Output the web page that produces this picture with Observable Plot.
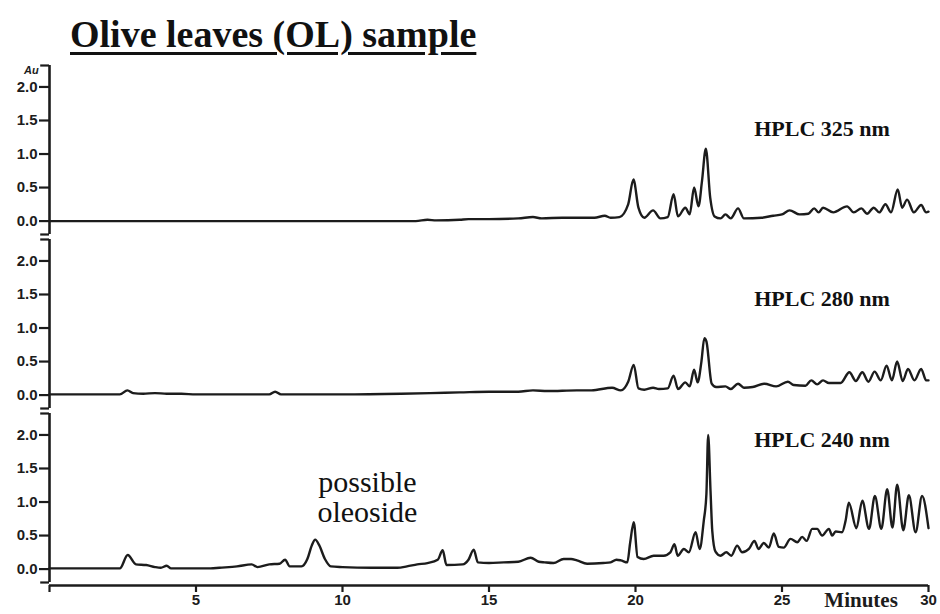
<!DOCTYPE html>
<html>
<head>
<meta charset="utf-8">
<script src="https://cdn.jsdelivr.net/npm/d3@7"></script>
<script src="https://cdn.jsdelivr.net/npm/@observablehq/plot@0.6"></script>
<style>
  body { margin: 0; background: #fff; }
  #wrap { position: relative; width: 940px; height: 614px; }
  #title {
    position: absolute; left: 70px; top: 15px; margin: 0;
    font: bold 38px/38px "Liberation Serif", "Times New Roman", serif;
    color: #111; white-space: nowrap;
    text-decoration: underline; text-decoration-thickness: 3px; text-underline-offset: 5px;
  }
  #wrap svg { position: absolute; left: 0; top: 0; }
</style>
</head>
<body>
<div id="wrap"><h1 id="title">Olive leaves (OL) sample</h1></div>
<script>
// Detector wavelengths (nm), top panel to bottom panel
const wavelengths = ["325", "280", "240"];
const panelTitles = ["HPLC 325 nm", "HPLC 280 nm", "HPLC 240 nm"];

// Chromatogram traces: [retention time (min), absorbance (AU)]
const trace325 = [
  [0, 0], [5, 0], [10, 0], [12.5, 0], [12.9, 0.02], [13.2, 0.01], [14, 0.02], [14.3, 0.03],
  [15, 0.03], [16, 0.04], [16.5, 0.06], [16.8, 0.04], [17.5, 0.05], [18.2, 0.05], [18.6, 0.05],
  [18.95, 0.08], [19.15, 0.05], [19.45, 0.06], [19.75, 0.25], [19.93, 0.62], [20.1, 0.2],
  [20.3, 0.05], [20.6, 0.16], [20.85, 0.04], [21.1, 0.06], [21.3, 0.4], [21.45, 0.07],
  [21.7, 0.2], [21.85, 0.1], [22.0, 0.5], [22.15, 0.22], [22.27, 0.6], [22.4, 1.08],
  [22.55, 0.35], [22.7, 0.07], [22.9, 0.04], [23.07, 0.1], [23.25, 0.04], [23.5, 0.19],
  [23.7, 0.04], [24.3, 0.05], [24.7, 0.08], [25.0, 0.1], [25.26, 0.16], [25.6, 0.1],
  [25.9, 0.11], [26.1, 0.19], [26.25, 0.13], [26.4, 0.2], [26.75, 0.13], [27.22, 0.22],
  [27.45, 0.13], [27.71, 0.19], [27.9, 0.11], [28.13, 0.2], [28.32, 0.13], [28.53, 0.25],
  [28.72, 0.13], [28.95, 0.47], [29.1, 0.2], [29.27, 0.32], [29.5, 0.13], [29.75, 0.24],
  [29.92, 0.13], [30, 0.14]
];

const trace280 = [
  [0, 0.01], [2.4, 0.01], [2.66, 0.07], [2.85, 0.03], [3.2, 0.02], [3.6, 0.03], [4.0, 0.02],
  [4.5, 0.02], [5, 0.01], [7.5, 0.01], [7.7, 0.05], [7.9, 0.01], [10, 0.01], [12, 0.02],
  [13, 0.03], [14, 0.04], [15, 0.05], [16, 0.05], [16.5, 0.07], [17, 0.06], [18, 0.07],
  [18.5, 0.07], [19.2, 0.11], [19.5, 0.07], [19.75, 0.2], [19.94, 0.45], [20.1, 0.1],
  [20.3, 0.08], [20.6, 0.11], [20.8, 0.09], [21.1, 0.1], [21.3, 0.29], [21.45, 0.09],
  [21.7, 0.19], [21.85, 0.13], [22.0, 0.38], [22.12, 0.19], [22.25, 0.5], [22.35, 0.85],
  [22.42, 0.8], [22.6, 0.17], [22.75, 0.12], [23.07, 0.13], [23.25, 0.09], [23.5, 0.17],
  [23.7, 0.11], [24.0, 0.12], [24.4, 0.17], [24.8, 0.13], [25.2, 0.2], [25.4, 0.15],
  [25.8, 0.14], [26.0, 0.22], [26.2, 0.16], [26.4, 0.22], [26.6, 0.18], [27.0, 0.18],
  [27.3, 0.34], [27.52, 0.21], [27.74, 0.34], [27.95, 0.2], [28.16, 0.35], [28.37, 0.22],
  [28.57, 0.44], [28.75, 0.22], [28.93, 0.5], [29.12, 0.21], [29.3, 0.39], [29.52, 0.22],
  [29.75, 0.39], [29.92, 0.22], [30, 0.22]
];

const trace240 = [
  [0, 0.01], [2.4, 0.01], [2.67, 0.21], [2.95, 0.07], [3.3, 0.06], [3.6, 0.03], [3.8, 0.02],
  [4.0, 0.05], [4.15, 0.01], [5.5, 0.01], [5.8, 0.02], [6.4, 0.04], [6.9, 0.07], [7.1, 0.03],
  [7.5, 0.07], [7.85, 0.08], [8.04, 0.14], [8.2, 0.04], [8.6, 0.04], [8.8, 0.15], [8.95, 0.35],
  [9.07, 0.44], [9.2, 0.36], [9.4, 0.15], [9.6, 0.04], [10, 0.03], [11, 0.02], [11.87, 0.02],
  [12.2, 0.04], [12.55, 0.07], [12.9, 0.09], [13.25, 0.14], [13.42, 0.28], [13.55, 0.06],
  [14.1, 0.07], [14.3, 0.14], [14.48, 0.29], [14.62, 0.1], [15.0, 0.09], [15.5, 0.1],
  [16.0, 0.11], [16.42, 0.17], [16.7, 0.11], [16.9, 0.1], [17.2, 0.09], [17.55, 0.15],
  [17.8, 0.15], [18.0, 0.13], [18.35, 0.08], [18.9, 0.09], [19.15, 0.1], [19.35, 0.14],
  [19.5, 0.13], [19.72, 0.1], [19.82, 0.4], [19.94, 0.7], [20.07, 0.18], [20.28, 0.15],
  [20.62, 0.2], [20.96, 0.2], [21.19, 0.25], [21.33, 0.37], [21.44, 0.2], [21.65, 0.3],
  [21.82, 0.25], [22.05, 0.55], [22.19, 0.3], [22.33, 0.72], [22.42, 1.12], [22.48, 2.0],
  [22.56, 1.17], [22.62, 0.57], [22.73, 0.26], [22.9, 0.2], [23.1, 0.25], [23.27, 0.2],
  [23.47, 0.35], [23.64, 0.25], [23.87, 0.3], [24.06, 0.42], [24.2, 0.3], [24.38, 0.39],
  [24.55, 0.32], [24.72, 0.53], [24.89, 0.33], [25.06, 0.32], [25.29, 0.45], [25.52, 0.4],
  [25.69, 0.48], [25.84, 0.42], [26.03, 0.6], [26.2, 0.6], [26.37, 0.5], [26.6, 0.6],
  [26.71, 0.5], [26.83, 0.56], [27.05, 0.55], [27.17, 0.72], [27.28, 0.99], [27.54, 0.61],
  [27.74, 1.02], [27.97, 0.6], [28.17, 1.09], [28.39, 0.6], [28.59, 1.19], [28.77, 0.62],
  [28.93, 1.26], [29.14, 0.58], [29.33, 1.1], [29.56, 0.55], [29.78, 1.09], [30, 0.61]
];

// Axis ticks
const xTicks = [0, 5, 10, 15, 20, 25, 30];
const yTicks = [0, 0.5, 1, 1.5, 2];
const xDomain = [0, 30];
const yDomain = [-0.2, 2.32];

// Long-format table for faceting by wavelength
const traces = [trace325, trace280, trace240];
const rows = traces.flatMap((trace, i) =>
  trace.map(([t, a]) => ({wl: wavelengths[i], t, a}))
);

const serif = '"Liberation Serif", "Times New Roman", serif';
const ink = "#1c1c1c";

// Panel title placement (minutes, AU) in each facet
const titleAt = {"325": [24.05, 1.38], "280": [24.05, 1.43], "240": [24.05, 1.92]};
const panelRows = wavelengths.map((wl, i) => ({wl, label: panelTitles[i], x: titleAt[wl][0], y: titleAt[wl][1]}));

const chart = Plot.plot({
  width: 940,
  height: 614,
  marginLeft: 49,
  marginRight: 12,
  marginTop: 64,
  marginBottom: 32,
  style: {
    fontFamily: '"Liberation Sans", Arial, sans-serif',
    fontSize: "15px",
    fontWeight: "bold",
    color: ink,
    background: "transparent",
    overflow: "visible"
  },
  x: {domain: xDomain},
  y: {domain: yDomain},
  fy: {domain: wavelengths, axis: null, paddingInner: 0.03, paddingOuter: 0},
  marks: [
    // per-panel absorbance axis
    Plot.axisY({ticks: yTicks, tickFormat: d3.format(".1f"), tickSize: 10, tickPadding: 2, strokeWidth: 2.2, fontSize: 15, label: null}),
    Plot.ruleX([xDomain[0]], {y1: yDomain[0], y2: yDomain[1], stroke: ink, strokeWidth: 2.6}),
    Plot.ruleY(yDomain, {x1: -0.3, x2: xDomain[0], stroke: ink, strokeWidth: 2.2}),
    // shared time axis under the bottom panel
    Plot.axisX({ticks: xTicks, tickFormat: d => (d === 0 ? "" : d), tickSize: 7, tickPadding: 2, strokeWidth: 2.2, dy: 3, fontSize: 15, label: null}),
    Plot.ruleY([{wl: "240"}], {fy: "wl", y: yDomain[0], x1: xDomain[0], x2: xDomain[1], dy: 3, stroke: ink, strokeWidth: 2.6}),
    Plot.text([{wl: "240"}], {fy: "wl", x: 27.7, y: -0.46, text: () => "Minutes", fontFamily: serif, fontSize: 21, fontWeight: "bold"}),
    Plot.text([{wl: "325"}], {fy: "wl", x: -0.37, y: 2.25, text: () => "Au", textAnchor: "end", fontSize: 11, fontStyle: "italic", fontWeight: "bold"}),
    // traces
    Plot.line(rows, {x: "t", y: "a", fy: "wl", curve: "monotone-x", stroke: ink, strokeWidth: 2.4, strokeLinejoin: "round"}),
    // panel titles
    Plot.text(panelRows, {fy: "wl", x: "x", y: "y", text: "label", textAnchor: "start", fontFamily: serif, fontSize: 22, fontWeight: "bold", fill: "#111"}),
    // peak annotation
    Plot.text([{wl: "240", line: "possible", y: 1.29}, {wl: "240", line: "oleoside", y: 0.84}],
      {fy: "wl", x: 10.85, y: "y", text: "line", fontFamily: serif, fontSize: 30, fontWeight: "normal", fill: "#111"})
  ]
});

document.getElementById("wrap").appendChild(chart);
</script>
</body>
</html>
